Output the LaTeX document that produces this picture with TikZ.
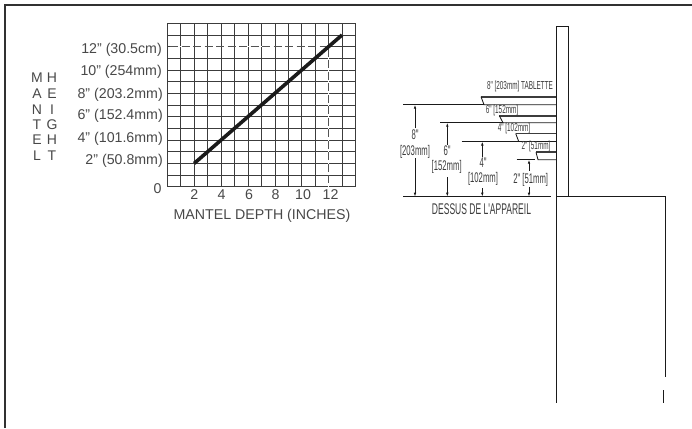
\documentclass[tikz,border=0pt]{standalone}
\usepackage{fontspec}
\setmainfont{Liberation Sans}
\newfontfamily\condfont[FakeStretch=0.55]{Liberation Sans}
\definecolor{ink}{HTML}{1A1A1A}
\definecolor{txt}{HTML}{484848}
\usetikzlibrary{arrows.meta}
\tikzset{
  frameline/.style={draw=ink!90,line width=1.7pt},
  gridv/.style={draw=ink!85,line width=0.9pt},
  gridh/.style={draw=ink!85,line width=0.9pt},
  guideclear/.style={draw=white,line width=1.2pt},
  guide/.style={draw=ink!75,line width=1.3pt,dash pattern=on 8pt off 3.5pt},
  curve/.style={draw=ink,line width=3.6pt},
  wall/.style={draw=ink,line width=1pt},
  dimline/.style={draw=ink,line width=0.85pt},
  dimarrow/.style={draw=ink,line width=0.8pt,-{Latex[length=4pt,width=2.6pt]}},
  shelfbar/.style={draw=ink!85,line width=1.9pt},
  lab/.style={inner sep=0pt,text=txt,font=\fontsize{14.2}{15}\selectfont},
  letter/.style={inner sep=0pt,text=txt,font=\fontsize{14}{15}\selectfont},
  cond/.style={inner sep=0pt,text=ink!85,font=\condfont\fontsize{14}{15}\selectfont},
  condbase/.style={inner sep=0pt,text=ink!85,font=\condfont\fontsize{15.5}{16}\selectfont},
  condsmall/.style={inner sep=0pt,text=ink!85,font=\condfont\fontsize{11.6}{12}\selectfont},
}
\begin{document}
\begin{tikzpicture}[x=1pt,y=-1pt]
\useasboundingbox (0,0) rectangle (692,428);
\path[frameline] (5,428) -- (5,5) -- (692,5);
% grid
\foreach \i in {0,...,14} {
  \draw[gridv] ({167.3+\i*13.46},23.3) -- ({167.3+\i*13.46},186.7);
  \draw[gridh] (167.3,{23.3+\i*11.67}) -- (355.7,{23.3+\i*11.67});
}
\coordinate (g0) at (170,46.7);
\coordinate (g12) at (328.8,46.7);
\coordinate (g1) at (328.8,186.7);
\path[guideclear] (g0) -- (g12) -- (g1);
\path[guide] (g0) -- (g12) -- (g1);
\coordinate (c0) at (194.2,163.4);
\coordinate (c1) at (342,35);
\path[curve] (c0) -- (c1);
% y labels
\node[lab,anchor=east] (y12) at (162,50) {12" (30.5cm)};
\node[lab,anchor=east] (y10) at (162,71.5) {10" (254mm)};
\node[lab,anchor=east] (y8) at (163,95) {8" (203.2mm)};
\node[lab,anchor=east] (y6) at (163,116) {6" (152.4mm)};
\node[lab,anchor=east] (y4) at (163,138.5) {4" (101.6mm)};
\node[lab,anchor=east] (y2) at (163,161) {2" (50.8mm)};
\node[lab] (y0) at (157.5,189) {0};
% x labels
\foreach \v/\x in {2/194.3,4/221.5,6/249,8/275.5,10/303,12/330.5}
  \node[lab] (x\v) at (\x,194.5) {\v};
\node[lab] (xt) at (262,216) {MANTEL DEPTH (INCHES)};
% side letters
\foreach \a/\b/\y in {M/H/78,A/E/94,N/I/110,T/G/125,E/H/140,L/T/156} {
  \node[letter] (l\a\y) at (37,\y) {\a};
  \node[letter] (r\a\y) at (52,\y) {\b};
}
% wall
\path[wall] (556.3,402.7) -- (556.3,27) -- (568,27) -- (568,196.7);
\path[wall] (556.3,196.7) -- (665,196.7) -- (665,377.3);
\path[wall] (663.5,390) -- (663.5,402.7);
% floor
\coordinate (f0) at (403,196.7);
\coordinate (f1) at (551,196.7);
\path[dimline,line width=1pt] (f0) -- (f1);
% shelves
\path[shelfbar] (481,96.7) -- (556,96.7);
\path[dimline] (481,96.7) -- (484,104.7) -- (556,104.7);
\path[dimline] (403,104.7) -- (484,104.7);
\path[shelfbar] (499.3,115.7) -- (556,115.7);
\path[dimline] (499.3,115.7) -- (503,122.7) -- (556,122.7);
\path[dimline] (440,122.7) -- (503,122.7);
\path[shelfbar] (515.7,133.5) -- (556,133.5);
\path[dimline] (515.7,133.5) -- (518.7,141.5) -- (556,141.5);
\path[dimline] (461.7,141.5) -- (518.7,141.5);
\path[shelfbar] (536,152.3) -- (556,152.3);
\path[dimline] (536,152.3) -- (538,159.7) -- (556,159.7);
\path[dimline] (516.7,159.7) -- (535,159.7);
% dimensions
\path[dimarrow] (415,128) -- (415,104.7);
\path[dimarrow] (415,158) -- (415,196.7);
\path[dimarrow] (447.3,145) -- (447.3,122.7);
\path[dimarrow] (447.3,177) -- (447.3,196.7);
\path[dimarrow] (482.3,156.7) -- (482.3,141.5);
\path[dimarrow] (482.3,188) -- (482.3,196.7);
\path[dimarrow] (529,170.7) -- (529,159.7);
\path[dimarrow] (529,186.7) -- (529,196.7);
\node[cond] (d8a) at (415,135) {8"};
\node[cond] (d8b) at (415,151.7) {[203mm]};
\node[cond] (d6a) at (447,151) {6"};
\node[cond] (d6b) at (446.7,166.7) {[152mm]};
\node[cond] (d4a) at (483,162.3) {4"};
\node[cond] (d4b) at (483,179) {[102mm]};
\node[cond] (d2) at (530.7,180) {2" [51mm]};
\node[condbase] (base) at (481.5,209) {DESSUS DE L'APPAREIL};
\node[condsmall] (s8) at (520,86.7) {8" [203mm] TABLETTE};
\node[condsmall] (s6) at (502,110.2) {6" [152mm]};
\node[condsmall] (s4) at (514,128.5) {4" [102mm]};
\node[condsmall] (s2) at (536,146.5) {2" [51mm]};
\end{tikzpicture}
\end{document}
